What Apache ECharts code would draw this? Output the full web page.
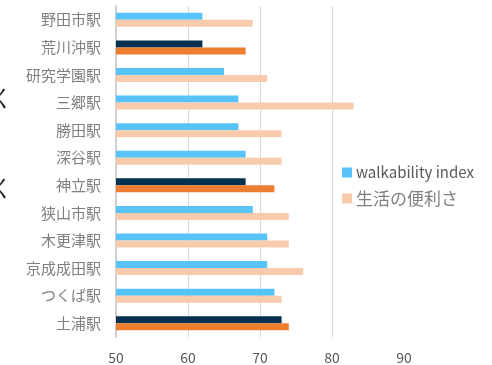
<!DOCTYPE html>
<html>
<head>
<meta charset="utf-8">
<script src="https://cdn.jsdelivr.net/npm/echarts@6/dist/echarts.min.js"></script>
<style>
  html, body { margin: 0; padding: 0; background: #fff; }
  #chart { width: 492px; height: 365px; }
</style>
</head>
<body>
<div id="chart"></div>
<script>
// 駅名（上から順）
const stations = ['野田市駅', '荒川沖駅', '研究学園駅', '三郷駅', '勝田駅', '深谷駅', '神立駅', '狭山市駅', '木更津駅', '京成成田駅', 'つくば駅', '土浦駅']
const walkability = [62, 62, 65, 67, 67, 68, 68, 69, 71, 71, 72, 73]
const convenience = [69, 68, 71, 83, 73, 73, 72, 74, 74, 76, 73, 74]
// 強調する駅
const highlighted = ['荒川沖駅', '神立駅', '土浦駅']
const xTicks = [50, 60, 70, 80, 90]

const chart = echarts.init(document.getElementById('chart'))

const withHighlight = (values, color) => values.map((v, i) =>
  highlighted.includes(stations[i]) ? { value: v, itemStyle: { color } } : v)

chart.setOption({
  animation: false,
  textStyle: { fontFamily: '"Noto Sans CJK JP", "Noto Sans", sans-serif' },
  grid: { left: 116, right: 88, top: 6, bottom: 25, containLabel: false },
  legend: {
    orient: 'vertical',
    left: 337,
    top: 160,
    itemWidth: 10,
    itemHeight: 10,
    itemGap: 10,
    icon: 'rect',
    formatter: name => name === '生活の便利さ' ? `{jp|${name}}` : `{en|${name}}`,
    textStyle: {
      rich: {
        en: { fontSize: 15, color: '#595959', padding: [0, 0, 0, -1] },
        jp: { fontSize: 17, color: '#7f7f7f', padding: [0, 0, 0, -1] }
      }
    },
    data: ['walkability index', '生活の便利さ']
  },
  xAxis: {
    type: 'value',
    min: xTicks[0],
    max: xTicks[xTicks.length - 1],
    interval: 10,
    axisLine: { show: false },
    axisTick: { show: false },
    axisLabel: { color: '#595959', fontSize: 14, margin: 14 },
    splitLine: { showMaxLine: false, lineStyle: { color: '#d9d9d9', width: 1 } }
  },
  yAxis: {
    type: 'category',
    inverse: true,
    data: stations,
    axisLine: { show: true, lineStyle: { color: '#d0d0d0', width: 2 } },
    axisTick: { show: false },
    axisLabel: { color: '#7f7f7f', fontSize: 15, margin: 15 }
  },
  series: [
    {
      name: 'walkability index',
      type: 'bar',
      barWidth: 7,
      barGap: '0%',
      itemStyle: { color: '#58C3F9' },
      data: withHighlight(walkability, '#03314F')
    },
    {
      name: '生活の便利さ',
      type: 'bar',
      barWidth: 7,
      barGap: '0%',
      itemStyle: { color: '#F8CBAD' },
      data: withHighlight(convenience, '#ED7D31')
    }
  ],
  graphic: [
    { type: 'text', left: -9, top: 88, style: { text: 'く', fontSize: 22, fill: '#222' } },
    { type: 'text', left: -9, top: 178, style: { text: 'く', fontSize: 22, fill: '#222' } }
  ]
})
</script>
</body>
</html>
